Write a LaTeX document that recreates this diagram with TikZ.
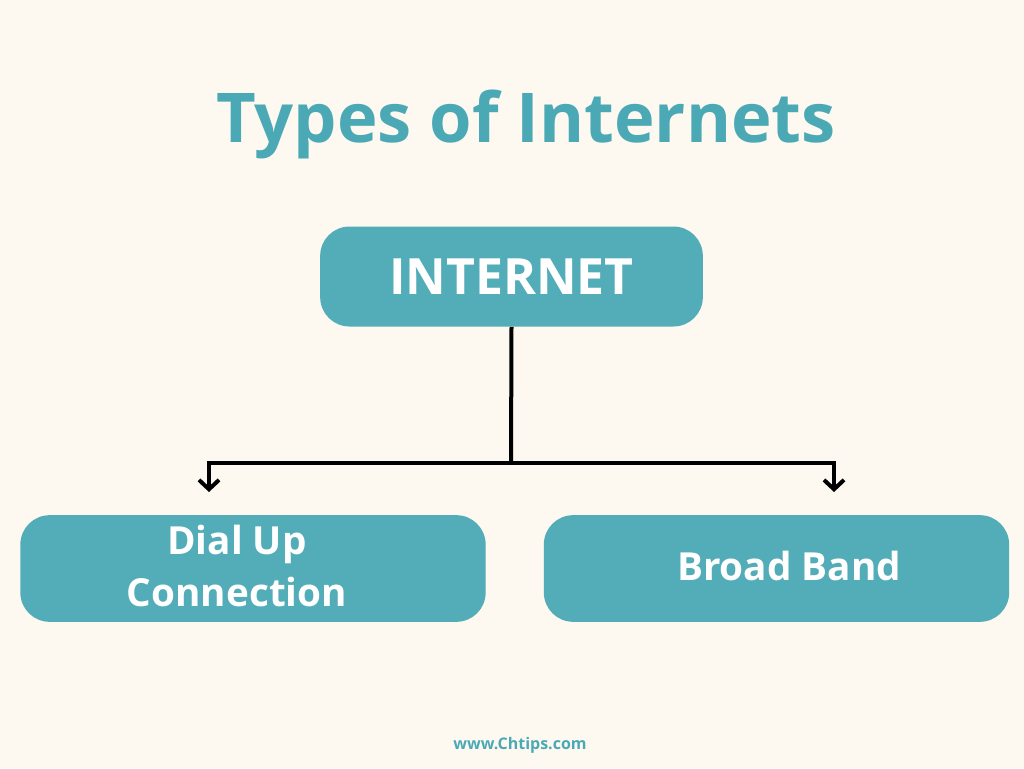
\documentclass[tikz,border=0pt]{standalone}
\usepackage{fontspec}
\setmainfont{Open Sans}
\usetikzlibrary{arrows.meta}
\definecolor{paper}{HTML}{FDF9F0}
\definecolor{teal}{HTML}{52ADB8}
\definecolor{titleteal}{HTML}{4BA9B6}

\begin{document}
\begin{tikzpicture}
[x=0.75pt,y=-0.75pt,
box/.style={fill=teal,rounded corners=22pt,text=white,font=\bfseries\fontsize{29}{39}\selectfont},
link/.style={line width=3pt,-{Straight Barb[length=7pt,width=15pt,line width=3pt]}}]
\fill[paper] (0,0) rectangle (1024,768);
\useasboundingbox (0,0) rectangle (1024,768);
\node[text=titleteal,font=\bfseries\fontsize{51.5}{60}\selectfont] (title) at (526,124) {Types of Internets};
\node[box,minimum width=287pt,minimum height=75pt,font=\bfseries\fontsize{37.5}{40}\selectfont] (internet) at (511.5,276.5) {INTERNET};
\node[box,minimum width=349pt,minimum height=80pt] (dialup) at (253,568.5) {};
\node[box,minimum width=349pt,minimum height=80pt] (broadband) at (776.5,568.5) {};
\node[text=white,align=center,font=\bfseries\fontsize{29}{39}\selectfont] (dialuptext) at (237,566) {Dial Up\\Connection};
\node[text=white,font=\bfseries\fontsize{29}{39}\selectfont] (broadbandtext) at (789,566) {Broad Band};
\node[text=titleteal,font=\bfseries\fontsize{12}{14}\selectfont] (site) at (520,745) {www.Chtips.com};
\coordinate (junction) at (511,463);
\coordinate (dialupend) at (209,492);
\coordinate (broadbandend) at (834,492);
\draw[line width=3pt] (internet.south) -- (junction);
\draw[link] (junction) -| (dialupend);
\draw[link] (junction) -| (broadbandend);
\end{tikzpicture}
\end{document}
